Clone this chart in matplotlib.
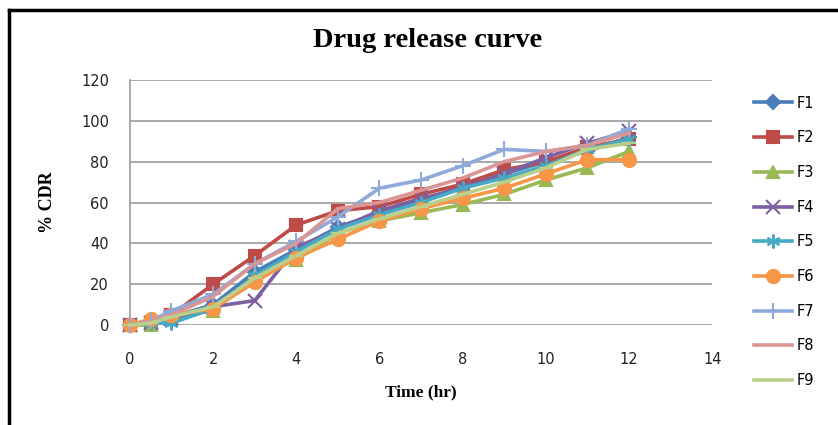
import matplotlib
matplotlib.use("Agg")
import matplotlib.pyplot as plt
from matplotlib.lines import Line2D

time_hr = [0, 0.5, 1, 2, 3, 4, 5, 6, 7, 8, 9, 10, 11, 12]
F1 = [0, 1, 4, 10, 26, 37, 48, 55, 61, 68, 74, 80, 85, 92]
F2 = [0, 1, 5, 20, 34, 49, 56, 58, 64, 69, 76, 80, 87, 91]
F3 = [0, 0, 4, 7, 24, 32, 45, 51, 55, 59, 64, 71, 77, 85]
F4 = [0, 1, 3, 9, 12, 38, 47, 56, 62, 67, 74, 82, 89, 95]
F5 = [0, 1, 1, 8, 24, 36, 47, 54, 60, 67, 72, 78, 86, 91]
F6 = [0, 3, 5, 8, 21, 33, 42, 51, 57, 62, 67, 74, 81, 81]
F7 = [0, 2, 7, 15, 30, 41, 53, 67, 71, 78, 86, 85, 88, 96]
F8 = [0, 2, 5, 14, 30, 40, 57, 60, 66, 72, 80, 85, 88, 94]
F9 = [0, 1, 4, 9, 23, 34, 45, 52, 58, 64, 70, 77, 86, 89]

names = ["F1", "F2", "F3", "F4", "F5", "F6", "F7", "F8", "F9"]
series = [F1, F2, F3, F4, F5, F6, F7, F8, F9]
colors = ["#4A7EBB", "#BE4B48", "#98B954", "#7D60A0", "#46AAC5",
          "#F79646", "#8EAADB", "#D99694", "#B9CF8A"]
markers = ["D", "s", "^", "x", (6, 2, 0), "o", "+", None, "_"]
msizes = [7, 9, 9, 10, 10, 9.5, 12, 0, 10]

fig = plt.figure(figsize=(8.38, 4.25), dpi=100)
ax = fig.add_axes([0.155, 0.235, 0.695, 0.577])

for name, vals, c, m, ms in zip(names, series, colors, markers, msizes):
    ax.plot(time_hr, vals, color=c, lw=2.6, marker=m, markersize=ms,
            markeredgecolor=c, markerfacecolor=c, markeredgewidth=1.5,
            label=name, clip_on=False, zorder=3)

ax.set_xlim(0, 14)
ax.set_ylim(0, 120)
ax.set_xticks(range(0, 15, 2))
ax.set_yticks(range(0, 121, 20))
ax.yaxis.grid(True, color="#9a9a9a", lw=1.2)
ax.set_axisbelow(True)
for s in ["top", "right", "bottom"]:
    ax.spines[s].set_visible(False)
ax.spines["left"].set_color("#9a9a9a")
ax.spines["left"].set_linewidth(1.2)
ax.tick_params(axis="x", length=0, labelsize=10.5, pad=19, colors="#222222")
ax.tick_params(axis="y", length=0, labelsize=10.5, pad=15, colors="#222222")

ax.set_xlabel("Time (hr)", family="Liberation Serif", fontweight="bold",
              fontsize=12.5, labelpad=13)
ax.set_ylabel("% CDR", family="Liberation Serif", fontweight="bold",
              fontsize=13, labelpad=18)
fig.text(0.51, 0.905, "Drug release curve", family="Liberation Serif",
         fontweight="bold", fontsize=20.5, ha="center", va="center")

leg = ax.legend(loc="upper left", bbox_to_anchor=(1.062, 0.96), frameon=False,
                fontsize=10.5, handlelength=2.6, labelspacing=1.35,
                handletextpad=0.3, borderaxespad=0)

# outer chart border (partially visible in the reference)
fig.add_artist(Line2D([0.011, 0.011], [0, 0.976], transform=fig.transFigure,
                      color="black", lw=2.5))
fig.add_artist(Line2D([0.011, 1.0], [0.976, 0.976], transform=fig.transFigure,
                      color="black", lw=2.5))

fig.savefig("out.png", dpi=100)
